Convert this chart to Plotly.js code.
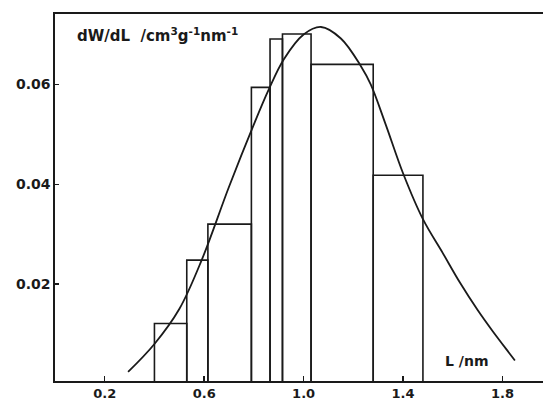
<!DOCTYPE html>
<html>
<head>
<meta charset="utf-8">
<script src="https://cdn.plot.ly/plotly-3.0.1.min.js"></script>
<style>html,body{margin:0;padding:0;background:#fff;}#chart{width:543px;height:400px;}</style>
</head>
<body>
<div id="chart"></div>
<script>
// Histogram bin edges (L / nm) and heights (dW/dL / cm3 g-1 nm-1)
var binEdges = [0.40, 0.53, 0.615, 0.79, 0.865, 0.915, 1.03, 1.28, 1.48];
var binHeights = [0.0121, 0.0248, 0.0320, 0.0594, 0.0691, 0.0701, 0.0640, 0.0418];

// Smooth distribution curve
var curveL = [0.294, 0.40, 0.50, 0.59, 0.70, 0.80, 0.86, 0.92, 1.00, 1.07, 1.15, 1.23, 1.27, 1.33, 1.40, 1.48, 1.56, 1.63, 1.70, 1.76, 1.83, 1.85];
var curveW = [0.0024, 0.0080, 0.0150, 0.0248, 0.0395, 0.0520, 0.0590, 0.0650, 0.0700, 0.0715, 0.0692, 0.0637, 0.0600, 0.0520, 0.0422, 0.0330, 0.0262, 0.0202, 0.0148, 0.0106, 0.0060, 0.0047];

var xTickVals = [0.2, 0.6, 1.0, 1.4, 1.8];
var xTickText = ["0.2", "0.6", "1.0", "1.4", "1.8"];
var yTickVals = [0.02, 0.04, 0.06];
var yTickText = ["0.02", "0.04", "0.06"];

var centers = [], widths = [];
for (var i = 0; i < binHeights.length; i++) {
  centers.push((binEdges[i] + binEdges[i + 1]) / 2);
  widths.push(binEdges[i + 1] - binEdges[i]);
}

var ink = '#1a1a1a';
var data = [
  {
    type: 'bar', x: centers, y: binHeights, width: widths,
    marker: {color: 'rgba(0,0,0,0)', line: {color: ink, width: 1.6}},
    hoverinfo: 'skip', showlegend: false
  },
  {
    type: 'scatter', mode: 'lines', x: curveL, y: curveW,
    line: {color: ink, width: 1.8, shape: 'spline', smoothing: 1},
    hoverinfo: 'skip', showlegend: false
  }
];

var tf = {family: 'DejaVu Sans, sans-serif', size: 13, color: ink, weight: 'bold'};
var layout = {
  width: 543, height: 400,
  margin: {l: 55, r: 0, t: 14, b: 19, pad: 0},
  paper_bgcolor: '#fff', plot_bgcolor: '#fff',
  barmode: 'overlay',
  xaxis: {
    range: [0, 1.963], showgrid: false, zeroline: false,
    showline: true, linecolor: ink, linewidth: 1.6, mirror: true,
    ticks: 'inside', ticklen: 5, tickwidth: 1.4, tickcolor: ink,
    tickmode: 'array', tickvals: xTickVals, ticktext: xTickText,
    tickfont: tf
  },
  yaxis: {
    range: [0.00058, 0.0741], showgrid: false, zeroline: false,
    showline: true, linecolor: ink, linewidth: 1.6,
    ticks: 'inside', ticklen: 4, tickwidth: 1.4, tickcolor: ink,
    tickmode: 'array', tickvals: yTickVals, ticktext: yTickText,
    tickfont: {family: 'DejaVu Sans, sans-serif', size: 14, color: ink, weight: 'bold'}
  },
  annotations: [
    {xref: 'paper', yref: 'paper', x: 0.041, y: 0.943, xanchor: 'left', yanchor: 'middle',
     text: 'dW/dL  /cm<sup>3</sup>g<sup>-1</sup>nm<sup>-1</sup>', showarrow: false,
     font: {family: 'DejaVu Sans, sans-serif', size: 15, color: ink, weight: 'bold'}},
    {xref: 'paper', yref: 'paper', x: 0.795, y: 0.055, xanchor: 'left', yanchor: 'middle',
     text: 'L /nm', showarrow: false,
     font: {family: 'DejaVu Sans, sans-serif', size: 14, color: ink, weight: 'bold'}}
  ]
};

Plotly.newPlot('chart', data, layout, {staticPlot: true, displayModeBar: false});
</script>
</body>
</html>
